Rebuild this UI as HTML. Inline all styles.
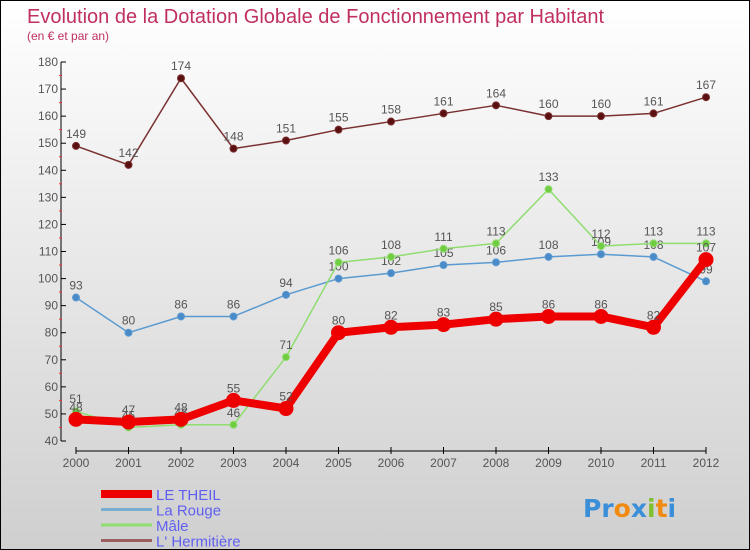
<!DOCTYPE html>
<html><head><meta charset="utf-8"><style>
body{margin:0}
#c{width:750px;height:550px;position:relative;box-sizing:border-box;border:1px solid #000;background:linear-gradient(#ffffff,#cfcfcf);font-family:"Liberation Sans",sans-serif;overflow:hidden}
svg{position:absolute;left:0;top:0}
</style></head><body>
<div id="c">
<svg id="s" width="750" height="550">
<text x="26" y="22" font-size="20" fill="#c0305f">Evolution de la Dotation Globale de Fonctionnement par Habitant</text>
<text x="26" y="39" font-size="12" fill="#c0305f">(en € et par an)</text>
<text x="582" y="516" font-size="25" font-weight="bold" font-family="DejaVu Sans, sans-serif"><tspan fill="#3a8fd8">Pr</tspan><tspan fill="#f08a10">o</tspan><tspan fill="#3a8fd8">x</tspan><tspan fill="#80c030">i</tspan><tspan fill="#f08a10">t</tspan><tspan fill="#3a8fd8">i</tspan></text>
</svg>
</div>
<script>
const years=[2000,2001,2002,2003,2004,2005,2006,2007,2008,2009,2010,2011,2012];
const yTicks=[40,50,60,70,80,90,100,110,120,130,140,150,160,170,180];
const leTheil=[48,47,48,55,52,80,82,83,85,86,86,82,107];
const laRouge=[93,80,86,86,94,100,102,105,106,108,109,108,99];
const male=[51,45,46,46,71,106,108,111,113,133,112,113,113];
const hermitiere=[149,142,174,148,151,155,158,161,164,160,160,161,167];
const seriesNames=["LE THEIL","La Rouge","Mâle","L' Hermitière"];
const NS="http://www.w3.org/2000/svg";
const svg=document.getElementById('s');
const X=i=>75+i*(630/(years.length-1));
const Y=v=>440-(v-40)*(379/140);
function mk(t,a){const e=document.createElementNS(NS,t);for(const k in a)e.setAttribute(k,a[k]);svg.appendChild(e);return e;}
let ax=mk('line',{x1:60,y1:Y(180),x2:60,y2:Y(40),stroke:'#000'});


let xa=mk('line',{x1:75,y1:450,x2:705,y2:450,stroke:'#000'});


yTicks.forEach(v=>{
  mk('line',{x1:60,y1:Y(v),x2:65,y2:Y(v),stroke:'#000'});
  if(v<180)mk('line',{x1:58,y1:Y(v+5),x2:61,y2:Y(v+5),stroke:'#e33'});
  const t=mk('text',{x:57,y:Y(v)+4,'font-size':12,fill:'#555','text-anchor':'end'});t.textContent=v;
  
  
});
years.forEach((y,i)=>{
  mk('line',{x1:X(i),y1:446,x2:X(i),y2:453,stroke:'#000'});
  const t=mk('text',{x:X(i),y:466,'font-size':12,fill:'#555','text-anchor':'middle'});t.textContent=y;
  
  
});
function series(data,color,dot,w,r,name){
  const p=mk('polyline',{points:data.map((v,i)=>X(i)+','+Y(v)).join(' '),fill:'none',stroke:color,'stroke-width':w,'stroke-linejoin':'round'});
  
  
  data.forEach((v,i)=>{
    const c=mk('circle',{cx:X(i),cy:Y(v),r:r,fill:dot,stroke:color,'stroke-width':1});
    
    
    const t=mk('text',{x:X(i),y:Y(v)-8,'font-size':12,fill:'#555','text-anchor':'middle'});t.textContent=v;
    
    
  });
}
series(hermitiere,'#7a3030','#5a1010',1.5,3.5,'hermitiere');
series(laRouge,'#5a9ad0','#4a8ac8',1.5,3.5,'la-rouge');
series(male,'#90dd70','#70cc40',1.5,3.5,'male');
series(leTheil,'#ee0000','#ee0000',8,7,'le-theil');
const lc=['#ee0000','#7aaed0','#90dd70','#9a6060'];
const lw=[8,3,3,3];
seriesNames.forEach((n,i)=>{
  const y=493+i*15.5;
  const l=mk('line',{x1:100,y1:y,x2:151,y2:y,stroke:lc[i],'stroke-width':lw[i]});
  
  
  const t=mk('text',{x:155,y:y+6,'font-size':15,fill:'#6060f0'});t.textContent=n;
  
  
});
</script>
</body></html>
